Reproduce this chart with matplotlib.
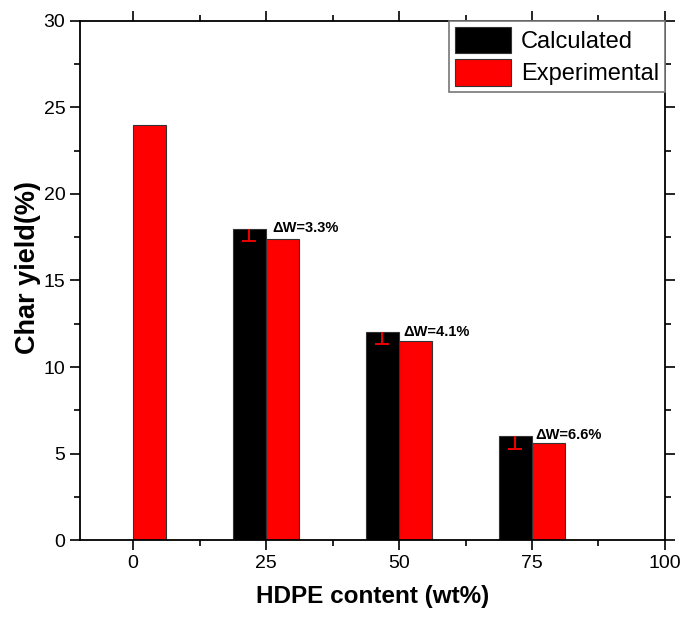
import matplotlib
matplotlib.use("Agg")
import matplotlib.pyplot as plt
from matplotlib.ticker import MultipleLocator

plt.rcParams['font.family'] = ['Liberation Sans', 'DejaVu Sans']

# HDPE content groups (wt%)
hdpe_calc = [25, 50, 75]
calculated = [18.0, 12.0, 6.0]
calc_err_low = [0.7, 0.65, 0.75]

hdpe_exp = [0, 25, 50, 75]
experimental = [24.0, 17.4, 11.5, 5.6]

delta_labels = ["\u0394W=3.3%", "\u0394W=4.1%", "\u0394W=6.6%"]
label_dx = [1.2, 0.8, 0.6]

bar_w = 6.25

fig = plt.figure(figsize=(6.83, 6.19), dpi=100)
ax = fig.add_axes([0.1171, 0.1276, 0.8565, 0.8385])

ax.bar(hdpe_calc, calculated, width=-bar_w, align='edge', color='black',
       edgecolor='#333333', linewidth=0.8, label='Calculated', zorder=2)
ax.bar(hdpe_exp, experimental, width=bar_w, align='edge', color='#ff0000',
       edgecolor='#333333', linewidth=0.8, label='Experimental', zorder=2)

# lower-only error bars on the calculated values
calc_centers = [x - bar_w / 2 for x in hdpe_calc]
eb = ax.errorbar(calc_centers, calculated,
                 yerr=[calc_err_low, [0] * len(calc_err_low)],
                 fmt='none', ecolor='#ff0000', elinewidth=1.3, capsize=5,
                 capthick=1.3, zorder=3)
caps = eb[1]
if len(caps) > 1:
    caps[1].set_visible(False)

for x, y, txt, dx in zip(hdpe_calc, calculated, delta_labels, label_dx):
    ax.text(x + dx, y + 0.05, txt, fontsize=10.5, fontweight='bold',
            ha='left', va='center', zorder=4)

ax.set_xlim(-10, 100)
ax.set_ylim(0, 30)
ax.xaxis.set_major_locator(MultipleLocator(25))
ax.xaxis.set_minor_locator(MultipleLocator(12.5))
ax.yaxis.set_major_locator(MultipleLocator(5))
ax.yaxis.set_minor_locator(MultipleLocator(2.5))

ax.tick_params(which='both', direction='out', top=True, right=True,
               labeltop=False, labelright=False, width=1.2, labelsize=14)
ax.tick_params(which='major', length=7)
ax.tick_params(which='minor', length=4)
for s in ax.spines.values():
    s.set_linewidth(1.3)

ax.set_xlabel('HDPE content (wt%)', fontsize=17.5, fontweight='bold', labelpad=10)
ax.set_ylabel('Char yield(%)', fontsize=19.5, fontweight='bold')
ax.yaxis.set_label_coords(-0.066, 0.525)

leg = ax.legend(loc='upper right', fontsize=17, frameon=True, fancybox=False,
                borderaxespad=0, handlelength=2.4, handleheight=1.35,
                handletextpad=0.4, borderpad=0.25, labelspacing=0.25)
leg.get_frame().set_edgecolor('#777777')
leg.get_frame().set_linewidth(1.2)
leg.get_frame().set_alpha(1)

fig.savefig('out.png', dpi=100)
